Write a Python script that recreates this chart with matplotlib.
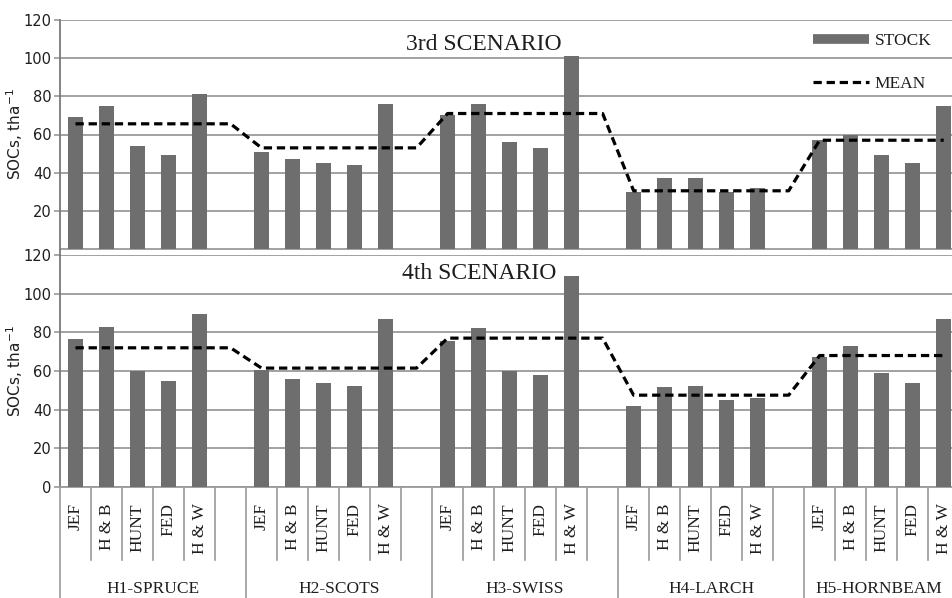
import matplotlib
matplotlib.use("Agg")
import matplotlib.pyplot as plt
from matplotlib.lines import Line2D
from matplotlib.transforms import blended_transform_factory

# ---- data -------------------------------------------------------------
groups = ["H1-SPRUCE", "H2-SCOTS", "H3-SWISS", "H4-LARCH", "H5-HORNBEAM"]
methods = ["JEF", "H & B", "HUNT", "FED", "H & W"]

# SOC stock per method (rows follow `groups`, columns follow `methods`)
stock_3rd = [
    [69, 75, 54, 49, 81],
    [51, 47, 45, 44, 76],
    [70, 76, 56, 53, 101],
    [30, 37, 37, 30, 32],
    [57, 60, 49, 45, 75],
]
mean_3rd = [65.6, 53, 71, 30.5, 57]

stock_4th = [
    [76.5, 83, 60, 55, 89.5],
    [60.5, 56, 54, 52.5, 87],
    [75.5, 82, 60, 58, 109],
    [42, 51.5, 52.5, 45, 46],
    [67, 73, 59, 54, 87],
]
mean_4th = [72, 61.5, 77, 47.5, 68]

panel_titles = ["3rd SCENARIO", "4th SCENARIO"]
ylabel_text = r"SOCs, tha$^{-1}$"

# ---- style ------------------------------------------------------------
BAR = "#6e6e6e"
GRID = "#9a9a9a"
AXIS = "#7a7a7a"
TEXT = "#1e1e1e"
SERIF = ["Liberation Serif", "DejaVu Serif"]
SANS = ["DejaVu Sans"]

W, H = 953, 598
fig = plt.figure(figsize=(W / 100, H / 100), dpi=100)


def fx(px):
    return px / W


def fy(py):
    return 1 - py / H


LEFT, RIGHT = 60, 953
ax_top = fig.add_axes([fx(LEFT), fy(249), fx(RIGHT - LEFT), fy(20) - fy(249)])
ax_bot = fig.add_axes([fx(LEFT), fy(487), fx(RIGHT - LEFT), fy(255) - fy(487)])

SLOTS = 6           # five methods + one spacer slot per group
XMAX = 28.3
n_groups = len(groups)

bar_x = [g * SLOTS + m for g in range(n_groups) for m in range(len(methods))]


def mean_path(means):
    xs, ys = [], []
    for g, mval in enumerate(means):
        n = SLOTS if g < n_groups - 1 else len(methods)
        for k in range(n):
            xs.append(g * SLOTS + k)
            ys.append(mval)
    return xs, ys


def draw_panel(ax, stock, means, yticks):
    heights = [v for row in stock for v in row]
    bars = ax.bar(bar_x, heights, width=0.48, color=BAR, zorder=3)
    lx, ly = mean_path(means)
    (line,) = ax.plot(lx, ly, color="black", lw=2.3, dashes=(2.6, 1.5), zorder=4)
    ax.set_xlim(-0.5, XMAX)
    ax.set_ylim(0, 120)
    ax.set_yticks(yticks)
    ax.set_yticklabels([str(t) for t in yticks], family=SANS)
    ax.yaxis.grid(True, color=GRID, lw=1.3)
    ax.set_axisbelow(True)
    ax.set_xticks([])
    for s in ("top", "right"):
        ax.spines[s].set_visible(False)
    ax.spines["bottom"].set_color(GRID)
    ax.spines["bottom"].set_linewidth(1.3)
    ax.spines["left"].set_color(AXIS)
    ax.spines["left"].set_linewidth(1.3)
    ax.tick_params(axis="y", length=4, width=1.2, color=GRID,
                   labelsize=10.5, labelcolor=TEXT, pad=2)
    ax.set_ylabel(ylabel_text, fontsize=11, color=TEXT, family=SANS)
    ax.yaxis.set_label_coords(-0.039, 0.5)
    return bars, line


draw_panel(ax_top, stock_3rd, mean_3rd, [20, 40, 60, 80, 100, 120])
draw_panel(ax_bot, stock_4th, mean_4th, [0, 20, 40, 60, 80, 100, 120])

# connect the two left axis lines across the gap
fig.add_artist(Line2D([fx(LEFT), fx(LEFT)], [fy(249), fy(255)], color=AXIS, lw=1.3))

# scenario titles
fig.text(fx(484), fy(45), panel_titles[0], ha="center", va="center",
         family=SERIF, fontsize=17, color=TEXT)
fig.text(fx(479), fy(274), panel_titles[1], ha="center", va="center",
         family=SERIF, fontsize=17, color=TEXT)

# legend
ax_top.legend(
    [Line2D([], [], color=BAR, lw=7, solid_capstyle="butt"),
     Line2D([], [], color="black", lw=2.3, dashes=(2.6, 1.5))],
    ["STOCK", "MEAN"],
    loc="upper left", bbox_to_anchor=(fx(813), fy(33)),
    bbox_transform=fig.transFigure, frameon=False,
    prop={"family": SERIF, "size": 12.5},
    handlelength=3.2, handletextpad=0.35, labelspacing=1.55,
    borderpad=0, borderaxespad=0, labelcolor=TEXT,
)

# ---- two-level category axis under the lower panel -------------------
trans = blended_transform_factory(ax_bot.transData, fig.transFigure)
for k in range(int(XMAX + 0.5) + 1):
    x = k - 0.5
    if x > XMAX:
        break
    y_end = 0 if k % SLOTS == 0 else fy(560)
    ax_bot.plot([x, x], [fy(487), y_end], transform=trans, color=GRID,
                lw=1.2, clip_on=False)

for x in bar_x:
    ax_bot.text(x, fy(503), methods[x % SLOTS], transform=trans, rotation=90,
                ha="center", va="top", family=SERIF, fontsize=12.5, color=TEXT)

for g, name in enumerate(groups):
    start = g * SLOTS - 0.5
    end = min(start + SLOTS, XMAX)
    ax_bot.text((start + end) / 2, fy(589), name, transform=trans,
                ha="center", va="center", family=SERIF, fontsize=12.5, color=TEXT)

fig.savefig("out.png", dpi=100)
